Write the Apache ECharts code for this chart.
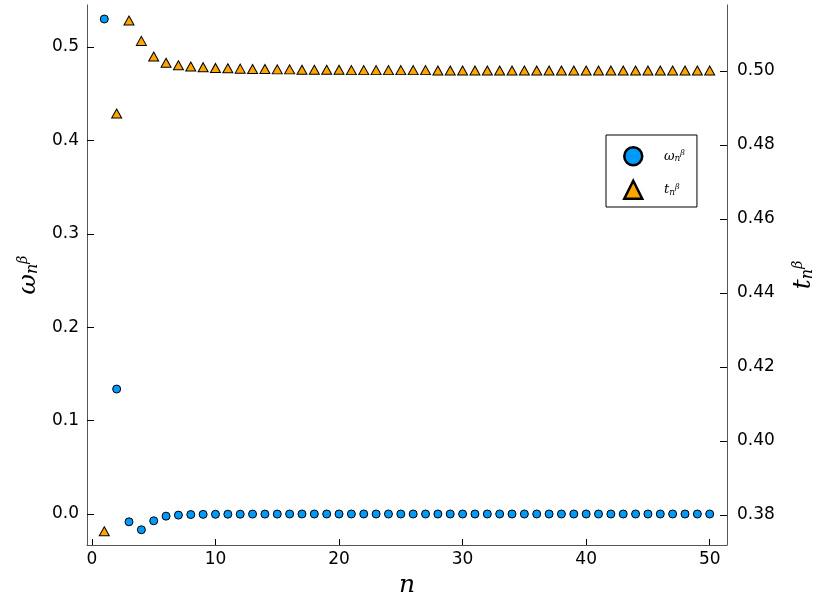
<!DOCTYPE html>
<html>
<head>
<meta charset="utf-8">
<script src="https://cdn.jsdelivr.net/npm/echarts@6/dist/echarts.min.js"></script>
<style>html,body{margin:0;padding:0;background:#fff;}#c{width:825px;height:592px;}</style>
</head>
<body>
<div id="c"></div>
<script>
const nValues = Array.from({length: 50}, (_, i) => i + 1);
const omegaValues = [0.530, 0.1338, -0.0084, -0.0169, -0.0073, -0.0023, -0.0012, -0.0006, -0.0004, -0.0003,
  -0.0002, -0.0002, -0.0001, -0.0001, -0.0001, 0, 0, 0, 0, 0,
  0, 0, 0, 0, 0, 0, 0, 0, 0, 0,
  0, 0, 0, 0, 0, 0, 0, 0, 0, 0,
  0, 0, 0, 0, 0, 0, 0, 0, 0, 0];
const tValues = [0.3756, 0.4885, 0.5136, 0.5081, 0.5039, 0.5022, 0.5015, 0.5012, 0.5010, 0.5008,
  0.5007, 0.5006, 0.5005, 0.5005, 0.5004, 0.5004, 0.5003, 0.5003, 0.5003, 0.5003,
  0.5002, 0.5002, 0.5002, 0.5002, 0.5002, 0.5002, 0.5002, 0.5001, 0.5001, 0.5001,
  0.5001, 0.5001, 0.5001, 0.5001, 0.5001, 0.5001, 0.5001, 0.5001, 0.5001, 0.5001,
  0.5001, 0.5001, 0.5001, 0.5001, 0.5001, 0.5001, 0.5001, 0.5001, 0.5001, 0.5001];
const xTicks = [0, 10, 20, 30, 40, 50];
const yLeftTicks = [0, 0.1, 0.2, 0.3, 0.4, 0.5];
const yRightTicks = [0.38, 0.40, 0.42, 0.44, 0.46, 0.48, 0.50];

const chart = echarts.init(document.getElementById('c'));
const font = 'DejaVu Sans';
const mathRich = {
  m: {fontFamily: 'DejaVu Serif', fontStyle: 'italic', fontSize: 25, color: '#000'},
  sub: {fontFamily: 'DejaVu Serif', fontStyle: 'italic', fontSize: 16, color: '#000', verticalAlign: 'bottom', padding: [9, 0, 0, 0]},
  sup: {fontFamily: 'DejaVu Serif', fontStyle: 'italic', fontSize: 14, color: '#000', verticalAlign: 'top', padding: [0, 0, 11, 0]}
};
const legRich = {
  m: {fontFamily: 'DejaVu Serif', fontStyle: 'italic', fontSize: 13, color: '#000'},
  sub: {fontFamily: 'DejaVu Serif', fontStyle: 'italic', fontSize: 9, color: '#000', verticalAlign: 'bottom', padding: [5, 0, 0, 0]},
  sup: {fontFamily: 'DejaVu Serif', fontStyle: 'italic', fontSize: 8, color: '#000', verticalAlign: 'top', padding: [0, 0, 6, 0]}
};
const axisLineStyle = {color: '#555', width: 1};
chart.setOption({
  animation: false,
  backgroundColor: '#fff',
  grid: {left: 87, right: 98, top: 5, bottom: 47, containLabel: false, outerBoundsMode: 'none'},
  legend: {
    orient: 'vertical', left: 606, top: 135, width: 92,
    backgroundColor: '#fff', borderColor: '#000', borderWidth: 1,
    padding: [11, 12, 7, 17], itemGap: 13, itemWidth: 18, itemHeight: 18,
    data: [{name: 'omega', icon: 'circle'}, {name: 't', icon: 'triangle'}],
    itemStyle: {borderColor: '#000', borderWidth: 2.5},
    formatter: function (name) {
      return name === 'omega' ? '     {m|ω}{sub|n}{sup|β}' : '     {m|t}{sub|n}{sup|β}';
    },
    textStyle: {rich: legRich}
  },
  xAxis: {
    type: 'value', min: -0.4, max: 51.4,
    name: 'n', nameLocation: 'middle', nameGap: 26,
    nameTextStyle: {fontFamily: 'DejaVu Serif', fontStyle: 'italic', fontSize: 25, color: '#000'},
    axisLine: {show: true, onZero: false, lineStyle: axisLineStyle},
    axisTick: {show: true, inside: true, length: 6, customValues: xTicks, lineStyle: {color: '#000'}},
    axisLabel: {customValues: xTicks, fontFamily: font, fontSize: 17, color: '#000', margin: 6},
    splitLine: {show: false}
  },
  yAxis: [{
    type: 'value', min: -0.0332, max: 0.545, position: 'left',
    name: '{m|ω}{sub|n}{sup|β}', nameLocation: 'middle', nameGap: 42, nameRotate: 90,
    nameTextStyle: {rich: mathRich},
    axisLine: {show: true, onZero: false, lineStyle: axisLineStyle},
    axisTick: {show: true, inside: true, length: 7, customValues: yLeftTicks, lineStyle: {color: '#000'}},
    axisLabel: {customValues: yLeftTicks, fontFamily: font, fontSize: 17, color: '#000', margin: 8,
      formatter: v => v.toFixed(1)},
    splitLine: {show: false}
  }, {
    type: 'value', min: 0.3719, max: 0.5178, position: 'right',
    name: '{m|t}{sub|n}{sup|β}', nameLocation: 'middle', nameGap: 64, nameRotate: 90,
    nameTextStyle: {rich: mathRich},
    axisLine: {show: true, onZero: false, lineStyle: axisLineStyle},
    axisTick: {show: true, inside: true, length: 7, customValues: yRightTicks, lineStyle: {color: '#000'}},
    axisLabel: {customValues: yRightTicks, fontFamily: font, fontSize: 17, color: '#000', margin: 10,
      formatter: v => v.toFixed(2)},
    splitLine: {show: false}
  }],
  series: [{
    name: 'omega', type: 'scatter', yAxisIndex: 0, symbol: 'circle', symbolSize: 8,
    itemStyle: {color: '#009AFA', borderColor: '#000', borderWidth: 1, opacity: 1},
    data: nValues.map((n, i) => [n, omegaValues[i]])
  }, {
    name: 't', type: 'scatter', yAxisIndex: 1, symbol: 'triangle', symbolSize: [10, 9],
    itemStyle: {color: '#FFA500', borderColor: '#000', borderWidth: 1, opacity: 1},
    data: nValues.map((n, i) => [n, tValues[i]])
  }]
});
</script>
</body>
</html>
